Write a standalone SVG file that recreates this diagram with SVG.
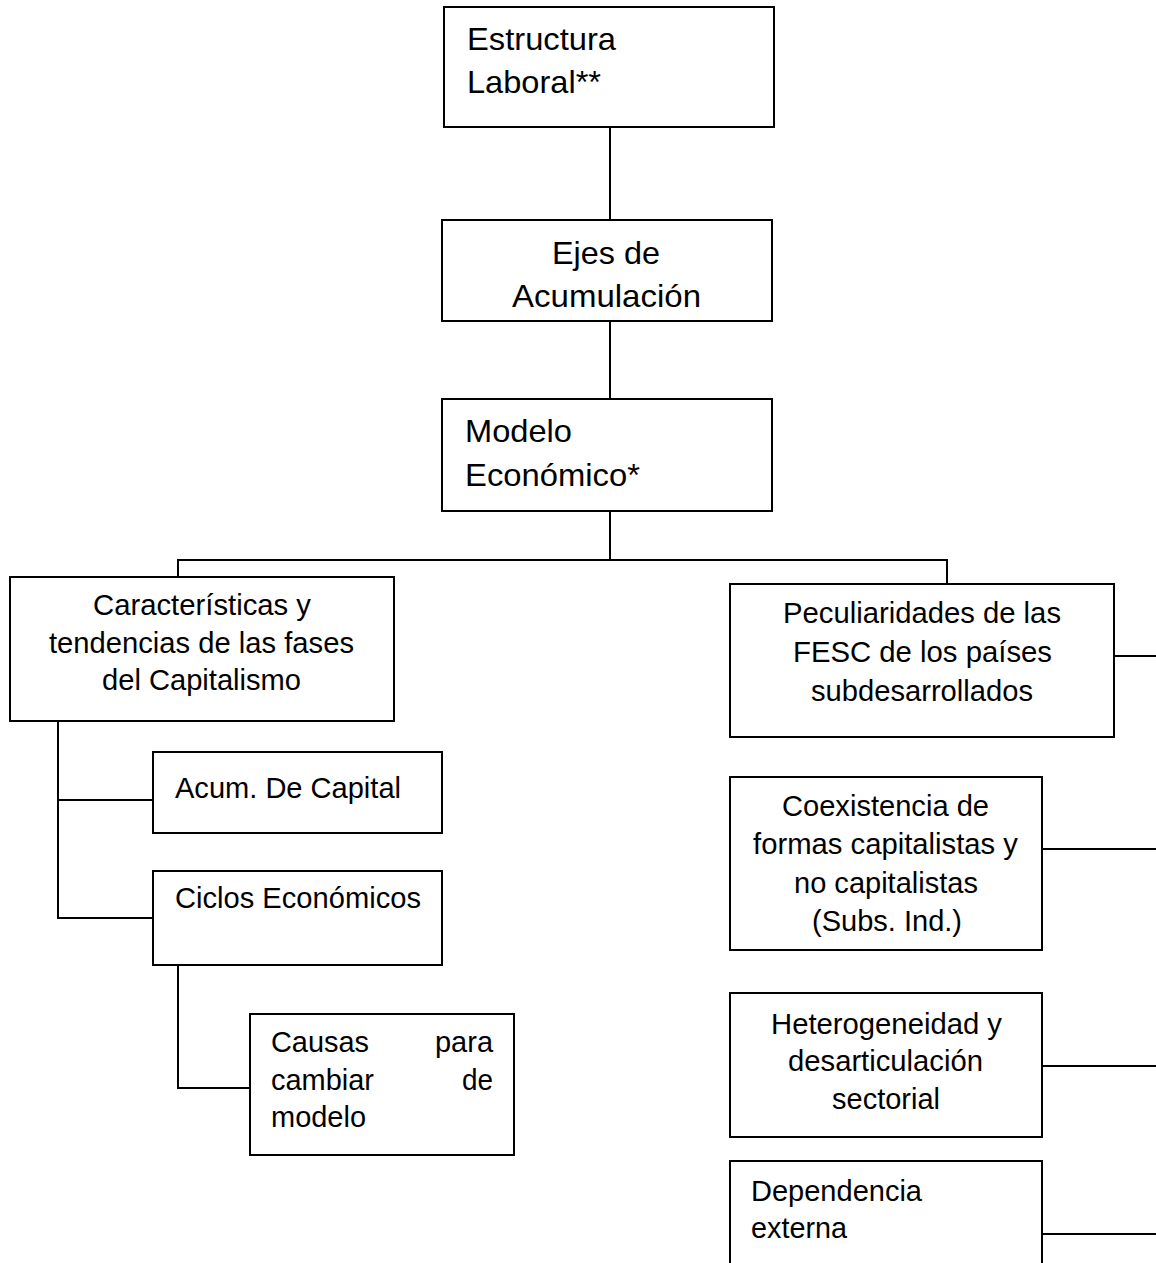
<svg xmlns="http://www.w3.org/2000/svg" width="1156" height="1263" viewBox="0 0 1156 1263">
<style>
.box{fill:#fff;stroke:#000;stroke-width:2}
.ln{fill:none;stroke:#000;stroke-width:2}
text{font-family:"Liberation Sans",Arial,sans-serif;fill:#000}
.t{font-size:32px}
.s{font-size:29px}
</style>
<rect width="1156" height="1263" fill="#fff"/>
<g id="connectors">
<path class="ln" d="M610 127V220"/>
<path class="ln" d="M610 321V399"/>
<path class="ln" d="M610 511V560M178 577V560H947V584"/>
<path class="ln" d="M58 721V918H153M58 800H153"/>
<path class="ln" d="M178 965V1088H250"/>
<path class="ln" d="M1114 656H1156"/>
<path class="ln" d="M1042 849H1156"/>
<path class="ln" d="M1042 1066H1156"/>
<path class="ln" d="M1042 1234H1156"/>
</g>
<g id="estructura">
<rect class="box" x="444" y="7" width="330" height="120"/>
<text class="t" x="467" y="50" textLength="149" lengthAdjust="spacingAndGlyphs">Estructura</text>
<text class="t" x="467" y="93" textLength="134" lengthAdjust="spacingAndGlyphs">Laboral**</text>
</g>
<g id="ejes">
<rect class="box" x="442" y="220" width="330" height="101"/>
<text class="t" x="552" y="264" textLength="108" lengthAdjust="spacingAndGlyphs">Ejes de</text>
<text class="t" x="512" y="307" textLength="189" lengthAdjust="spacingAndGlyphs">Acumulación</text>
</g>
<g id="modelo">
<rect class="box" x="442" y="399" width="330" height="112"/>
<text class="t" x="465" y="442" textLength="107" lengthAdjust="spacingAndGlyphs">Modelo</text>
<text class="t" x="465" y="486" textLength="175" lengthAdjust="spacingAndGlyphs">Económico*</text>
</g>
<g id="caracteristicas">
<rect class="box" x="10" y="577" width="384" height="144"/>
<text class="s" x="93" y="615" textLength="218" lengthAdjust="spacingAndGlyphs">Características y</text>
<text class="s" x="49" y="653" textLength="305" lengthAdjust="spacingAndGlyphs">tendencias de las fases</text>
<text class="s" x="102" y="690" textLength="199" lengthAdjust="spacingAndGlyphs">del Capitalismo</text>
</g>
<g id="acum">
<rect class="box" x="153" y="752" width="289" height="81"/>
<text class="s" x="175" y="798" textLength="226" lengthAdjust="spacingAndGlyphs">Acum. De Capital</text>
</g>
<g id="ciclos">
<rect class="box" x="153" y="871" width="289" height="94"/>
<text class="s" x="175" y="908" textLength="246" lengthAdjust="spacingAndGlyphs">Ciclos Económicos</text>
</g>
<g id="causas">
<rect class="box" x="250" y="1014" width="264" height="141"/>
<text class="s" x="271" y="1052" textLength="98" lengthAdjust="spacingAndGlyphs">Causas</text>
<text class="s" x="435" y="1052" textLength="58" lengthAdjust="spacingAndGlyphs">para</text>
<text class="s" x="271" y="1090" textLength="103" lengthAdjust="spacingAndGlyphs">cambiar</text>
<text class="s" x="462" y="1090" textLength="31" lengthAdjust="spacingAndGlyphs">de</text>
<text class="s" x="271" y="1127" textLength="95" lengthAdjust="spacingAndGlyphs">modelo</text>
</g>
<g id="peculiaridades">
<rect class="box" x="730" y="584" width="384" height="153"/>
<text class="s" x="783" y="623" textLength="278" lengthAdjust="spacingAndGlyphs">Peculiaridades de las</text>
<text class="s" x="793" y="662" textLength="259" lengthAdjust="spacingAndGlyphs">FESC de los países</text>
<text class="s" x="811" y="701" textLength="222" lengthAdjust="spacingAndGlyphs">subdesarrollados</text>
</g>
<g id="coexistencia">
<rect class="box" x="730" y="777" width="312" height="173"/>
<text class="s" x="782" y="816" textLength="207" lengthAdjust="spacingAndGlyphs">Coexistencia de</text>
<text class="s" x="753" y="854" textLength="265" lengthAdjust="spacingAndGlyphs">formas capitalistas y</text>
<text class="s" x="794" y="893" textLength="184" lengthAdjust="spacingAndGlyphs">no capitalistas</text>
<text class="s" x="812" y="931" textLength="150" lengthAdjust="spacingAndGlyphs">(Subs. Ind.)</text>
</g>
<g id="heterogeneidad">
<rect class="box" x="730" y="993" width="312" height="144"/>
<text class="s" x="771" y="1034" textLength="231" lengthAdjust="spacingAndGlyphs">Heterogeneidad y</text>
<text class="s" x="788" y="1071" textLength="195" lengthAdjust="spacingAndGlyphs">desarticulación</text>
<text class="s" x="832" y="1109" textLength="108" lengthAdjust="spacingAndGlyphs">sectorial</text>
</g>
<g id="dependencia">
<rect class="box" x="730" y="1161" width="312" height="150"/>
<text class="s" x="751" y="1201" textLength="171" lengthAdjust="spacingAndGlyphs">Dependencia</text>
<text class="s" x="751" y="1238" textLength="96" lengthAdjust="spacingAndGlyphs">externa</text>
</g>
</svg>
